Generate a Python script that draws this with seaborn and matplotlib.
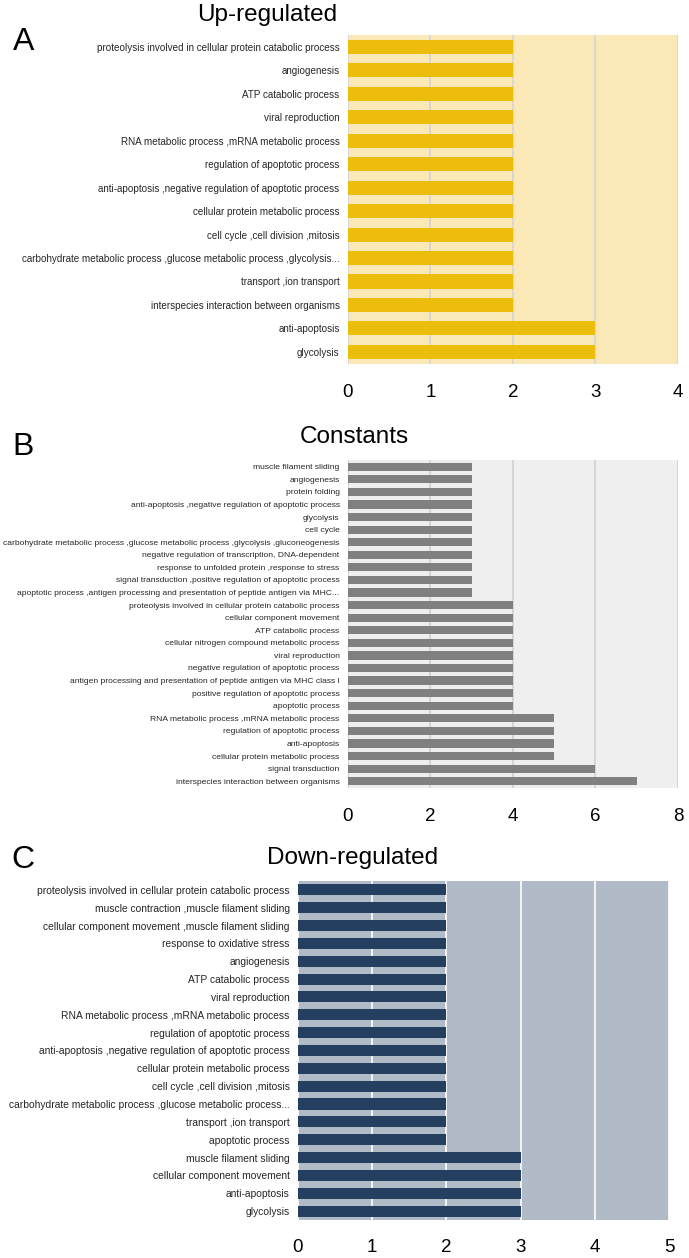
import matplotlib
matplotlib.use("Agg")
import pandas as pd
import seaborn as sns
import matplotlib.pyplot as plt

sns.set_theme(style="white")
plt.rcParams["font.family"] = ["Liberation Sans", "DejaVu Sans"]

# panel A: up-regulated
up_terms = [
    "proteolysis involved in cellular protein catabolic process",
    "angiogenesis",
    "ATP catabolic process",
    "viral reproduction",
    "RNA metabolic process ,mRNA metabolic process",
    "regulation of apoptotic process",
    "anti-apoptosis ,negative regulation of apoptotic process",
    "cellular protein metabolic process",
    "cell cycle ,cell division ,mitosis",
    "carbohydrate metabolic process ,glucose metabolic process ,glycolysis...",
    "transport ,ion transport",
    "interspecies interaction between organisms",
    "anti-apoptosis",
    "glycolysis",
]
up_counts = [2, 2, 2, 2, 2, 2, 2, 2, 2, 2, 2, 2, 3, 3]

# panel B: constants
const_terms = [
    "muscle filament sliding",
    "angiogenesis",
    "protein folding",
    "anti-apoptosis ,negative regulation of apoptotic process",
    "glycolysis",
    "cell cycle",
    "carbohydrate metabolic process ,glucose metabolic process ,glycolysis ,gluconeogenesis",
    "negative regulation of transcription, DNA-dependent",
    "response to unfolded protein ,response to stress",
    "signal transduction ,positive regulation of apoptotic process",
    "apoptotic process ,antigen processing and presentation of peptide antigen via MHC...",
    "proteolysis involved in cellular protein catabolic process",
    "cellular component movement",
    "ATP catabolic process",
    "cellular nitrogen compound metabolic process",
    "viral reproduction",
    "negative regulation of apoptotic process",
    "antigen processing and presentation of peptide antigen via MHC class I",
    "positive regulation of apoptotic process",
    "apoptotic process",
    "RNA metabolic process ,mRNA metabolic process",
    "regulation of apoptotic process",
    "anti-apoptosis",
    "cellular protein metabolic process",
    "signal transduction",
    "interspecies interaction between organisms",
]
const_counts = [3, 3, 3, 3, 3, 3, 3, 3, 3, 3, 3,
                4, 4, 4, 4, 4, 4, 4, 4, 4,
                5, 5, 5, 5, 6, 7]

# panel C: down-regulated
down_terms = [
    "proteolysis involved in cellular protein catabolic process",
    "muscle contraction ,muscle filament sliding",
    "cellular component movement ,muscle filament sliding",
    "response to oxidative stress",
    "angiogenesis",
    "ATP catabolic process",
    "viral reproduction",
    "RNA metabolic process ,mRNA metabolic process",
    "regulation of apoptotic process",
    "anti-apoptosis ,negative regulation of apoptotic process",
    "cellular protein metabolic process",
    "cell cycle ,cell division ,mitosis",
    "carbohydrate metabolic process ,glucose metabolic process...",
    "transport ,ion transport",
    "apoptotic process",
    "muscle filament sliding",
    "cellular component movement",
    "anti-apoptosis",
    "glycolysis",
]
down_counts = [2] * 15 + [3, 3, 3, 3]

fig = plt.figure(figsize=(6.89, 12.58), dpi=100)

panels = [
    dict(terms=up_terms, counts=up_counts, rect=[0.505, 0.711, 0.479, 0.261],
         bar="#EDBD0C", bg="#FAE8B6", grid="#D4D4D4", xmax=4, ticks=[0, 1, 2, 3, 4],
         lab_font=["Liberation Sans Narrow", "Liberation Sans"], lab_size=7.1, width=0.6,
         title="Up-regulated", tx=0.388, ty=0.988, letter="A", ly=0.967, pad=15),
    dict(terms=const_terms, counts=const_counts, rect=[0.505, 0.374, 0.479, 0.260],
         bar="#808080", bg="#EFEFEF", grid="#D0D0D0", xmax=8, ticks=[0, 2, 4, 6, 8],
         lab_font=["Liberation Sans"], lab_size=6.1, width=0.65,
         title="Constants", tx=0.514, ty=0.653, letter="B", ly=0.645, pad=15),
    dict(terms=down_terms, counts=down_counts, rect=[0.4325, 0.0302, 0.5385, 0.2695],
         bar="#243F60", bg="#B1BBC7", grid="#FFFFFF", xmax=5, ticks=[0, 1, 2, 3, 4, 5],
         lab_font=["Liberation Sans"], lab_size=7.4, width=0.62,
         title="Down-regulated", tx=0.511, ty=0.318, letter="C", ly=0.316, pad=14),
]

for p in panels:
    ax = fig.add_axes(p["rect"])
    df = pd.DataFrame({"term": p["terms"], "count": p["counts"]})
    ax.set_facecolor(p["bg"])
    sns.barplot(data=df, x="count", y="term", orient="h", color=p["bar"],
                width=p["width"], saturation=1, linewidth=0, ax=ax)
    for bar in ax.patches:
        bar.set_zorder(3)
    ax.set_xlim(0, p["xmax"])
    ax.set_xticks(p["ticks"])
    ax.xaxis.grid(True, color=p["grid"], linewidth=1.2)
    ax.yaxis.grid(False)
    ax.set_axisbelow(True)
    for s in ax.spines.values():
        s.set_visible(False)
    ax.set_xlabel("")
    ax.set_ylabel("")
    ax.tick_params(axis="x", length=0, labelsize=13.5, pad=p["pad"], labelcolor="black")
    ax.tick_params(axis="y", length=0, pad=6)
    for lab in ax.get_yticklabels():
        lab.set_fontfamily(p["lab_font"])
        lab.set_fontsize(p["lab_size"])
        lab.set_color("#262626")
    fig.text(p["tx"], p["ty"], p["title"], ha="center", va="center",
             fontsize=17.5, color="black")
    fig.text(0.034, p["ly"], p["letter"], ha="center", va="center",
             fontsize=23, color="black")

fig.savefig("out.png", dpi=100)
